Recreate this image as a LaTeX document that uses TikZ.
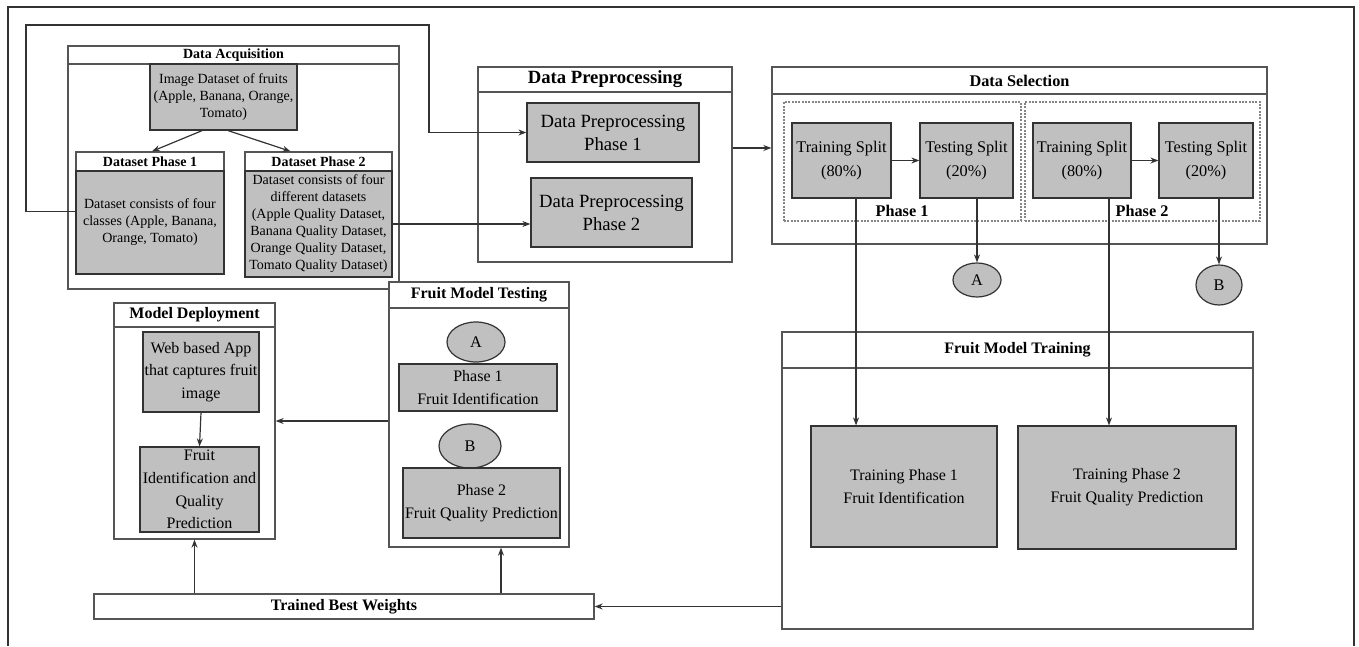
\documentclass[tikz,border=0pt]{standalone}
\usepackage{fontspec}
\setmainfont{Liberation Serif}
\usetikzlibrary{arrows.meta,shapes.geometric}
\definecolor{ink}{HTML}{333333}
\definecolor{frameink}{HTML}{555555}
\definecolor{boxgray}{HTML}{C0C0C0}
\definecolor{dashgray}{HTML}{858585}
\newcommand{\fsacq}{\fontsize{10.5}{12.75}\selectfont}
\newcommand{\fsprep}{\fontsize{14}{17.25}\selectfont}
\newcommand{\fssel}{\fontsize{12.2}{18}\selectfont}
\newcommand{\fslow}{\fontsize{12}{17}\selectfont}

\begin{document}
\begin{tikzpicture}[x=0.75pt, y=-0.75pt, >={Stealth[length=6pt,width=4.5pt]},
    spot/.style args={#1/#2/#3/#4}{at={({(#1+#3)/2},{(#2+#4)/2})}, anchor=center,
      minimum width={(#3-#1)*0.75pt}, minimum height={(#4-#2)*0.75pt}},
    frame/.style={draw=frameink, line width=1pt, inner sep=0pt},
    head/.style={draw=frameink, line width=1pt, fill=white, inner sep=0pt, font=#1\bfseries},
    gbox/.style={draw=ink, line width=0.9pt, fill=boxgray, inner sep=0pt, align=center, font=#1},
    phbox/.style={draw=dashgray, dash pattern=on 1.5pt off 1pt, line width=0.8pt, inner sep=0pt},
    conn/.style={ellipse, draw=ink, line width=0.9pt, fill=boxgray, inner sep=0pt, font=\fssel},
    arr/.style={->, draw=ink, line width=0.9pt}]
  \useasboundingbox (0,0) rectangle (1359,646);
  \draw[draw=ink, line width=1.4pt] (8,646) -- (8,7) -- (1354,7) -- (1354,646);

  \node[frame, spot=68/46/399/289] (acq) {};
  \node[head=\fsacq, spot=68/46/399/64] (acqT) {Data Acquisition};
  \node[gbox=\fsacq, spot=150/64/297/130] (img) {Image Dataset of fruits\\(Apple, Banana, Orange,\\Tomato)};
  \node[head=\fsacq, spot=76/152/224/171] (ds1T) {Dataset Phase 1};
  \node[gbox=\fsacq, spot=76/171/224/274] (ds1) {Dataset consists of four\\classes (Apple, Banana,\\Orange, Tomato)};
  \node[head=\fsacq, spot=245/152/392/171] (ds2T) {Dataset Phase 2};
  \node[gbox=\fsacq, spot=245/171/392/277] (ds2) {Dataset consists of four\\different datasets\\(Apple Quality Dataset,\\Banana Quality Dataset,\\Orange Quality Dataset,\\Tomato Quality Dataset)};

  \node[frame, spot=478/67/732/262] (prep) {};
  \node[head=\fsprep, spot=478/67/732/92] (prepT) {Data Preprocessing};
  \node[gbox=\fsprep, spot=527/103/699/162] (dpp1) {Data Preprocessing\\Phase 1};
  \node[gbox=\fsprep, spot=531/178/692/247] (dpp2) {Data Preprocessing\\Phase 2};

  \node[frame, spot=772/67/1267/244] (sel) {};
  \node[head=\fssel, spot=772/67/1267/94, line width=1.3pt] (selT) {Data Selection};
  \node[phbox, spot=784/102/1021/221] (ph1) {};
  \node[phbox, spot=1025/102/1260/221] (ph2) {};
  \node[font=\fssel\bfseries] (ph1lbl) at (902,211) {Phase 1};
  \node[font=\fssel\bfseries] (ph2lbl) at (1142,211) {Phase 2};
  \node[gbox=\fssel, spot=792/123/891/198] (trs1) {Training Split\\(80\%)};
  \node[gbox=\fssel, spot=920/123/1013/198] (tes1) {Testing Split\\(20\%)};
  \node[gbox=\fssel, spot=1033/123/1131/198] (trs2) {Training Split\\(80\%)};
  \node[gbox=\fssel, spot=1159/123/1253/198] (tes2) {Testing Split\\(20\%)};
  \node[conn, minimum width=36pt, minimum height=25.5pt] (outA) at (977,280) {A};
  \node[conn, minimum width=34.5pt, minimum height=30pt] (outB) at (1219,285) {B};

  \node[frame, spot=782/332/1253/629] (ftrain) {};
  \node[head=\fslow, spot=782/332/1253/368] (ftrainT) {Fruit Model Training};
  \node[gbox=\fslow, spot=811/426/997/547] (tp1) {Training Phase 1\\Fruit Identification};
  \node[gbox=\fslow, spot=1018/426/1236/549] (tp2) {Training Phase 2\\Fruit Quality Prediction};

  \node[frame, spot=389/282/569/547] (ftest) {};
  \node[head=\fslow, spot=389/282/569/308] (ftestT) {Fruit Model Testing};
  \node[conn, minimum width=43.5pt, minimum height=30pt] (inA) at (476,342) {A};
  \node[gbox=\fslow, spot=399/364/557/411] (fid1) {Phase 1\\Fruit Identification};
  \node[conn, minimum width=46.5pt, minimum height=33pt] (inB) at (470,446) {B};
  \node[gbox=\fslow, spot=403/468/560/538] (fqp2) {Phase 2\\Fruit Quality Prediction};

  \node[frame, spot=114/303/275/539] (deploy) {};
  \node[head=\fslow, spot=114/303/275/327] (deployT) {Model Deployment};
  \node[gbox=\fslow, spot=143/332/259/412] (web) {Web based App\\that captures fruit\\image};
  \node[gbox=\fslow, spot=140/447/259/532] (fiq) {Fruit\\Identification and\\Quality\\Prediction};

  \node[head=\fslow, spot=94/594/594/619] (tbw) {Trained Best Weights};

  \coordinate (loopa) at (26,25);
  \coordinate (loopb) at (429,25);
  \coordinate (prepout) at ([yshift=12.4pt]prep.east);
  \draw[arr] ([yshift=8.25pt]ds1.west) -| (loopa) -- (loopb) |- (dpp1.west);
  \draw[arr] (ds2.east) -- (ds2.east -| dpp2.west);
  \draw[arr] ([xshift=-16pt]img.south) -- ([xshift=1.5pt]ds1T.north);
  \draw[arr] ([xshift=3.4pt]img.south) -- ([xshift=-21pt]ds2T.north);
  \draw[arr] (prepout) -- (prepout -| sel.west);
  \draw[arr] (trs1.east) -- (tes1.west);
  \draw[arr] (trs2.east) -- (tes2.west);
  \draw[arr] (tes1.south -| outA.north) -- (outA.north);
  \draw[arr] (tes2.south -| outB.north) -- (outB.north);
  \draw[arr] ([xshift=10.9pt]trs1.south) -- ([xshift=10.9pt]trs1.south |- tp1.north);
  \draw[arr] ([xshift=20.25pt]trs2.south) -- ([xshift=20.25pt]trs2.south |- tp2.north);
  \draw[arr] (deploy.east -| ftest.west) -- (deploy.east);
  \draw[arr] (web.south) -- (fiq.north);
  \draw[arr] (deploy.south |- tbw.north) -- (deploy.south);
  \draw[arr] ([xshift=16.5pt]ftest.south |- tbw.north) -- ([xshift=16.5pt]ftest.south);
  \draw[arr] (tbw.east -| ftrain.west) -- (tbw.east);
\end{tikzpicture}
\end{document}
